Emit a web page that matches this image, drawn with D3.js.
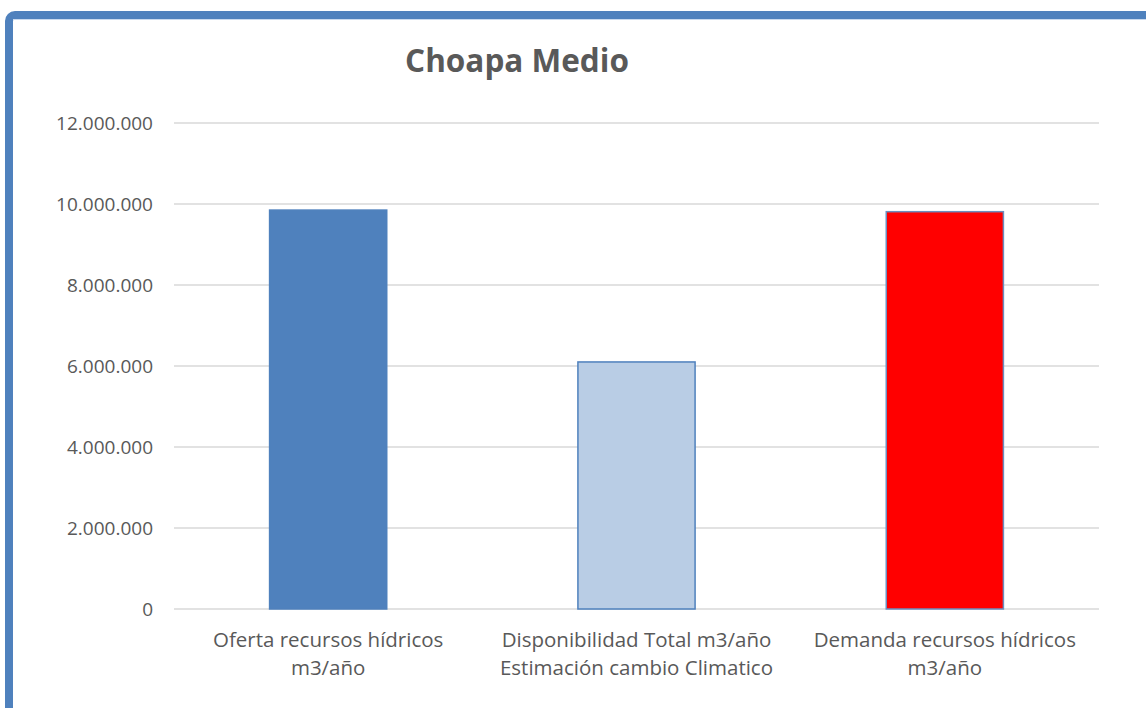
<!DOCTYPE html>
<html>
<head>
<meta charset="utf-8">
<script src="https://cdn.jsdelivr.net/npm/d3@7"></script>
<style>
  body { margin: 0; background: #fff; overflow: hidden; }
  text { font-family: "Open Sans", Lato, sans-serif; fill: #595959; }
</style>
</head>
<body>
<div id="chart"></div>
<script>
const categories = [
    ["Oferta recursos hídricos", "m3/año"],
    ["Disponibilidad Total m3/año", "Estimación cambio Climatico"],
    ["Demanda recursos hídricos", "m3/año"]
];
const values = [9850000, 6100000, 9810000];
const yTicks = [0, 2000000, 4000000, 6000000, 8000000, 10000000, 12000000];
const fills = ["#4F81BD", "#B9CDE5", "#FF0000"];
const strokes = ["#4F81BD", "#4F81BD", "#6C8EBF"];

const W = 1146, H = 708;
const margins = {top: 123, right: 47, bottom: 99, left: 174};
const width = W - margins.left - margins.right;
const height = H - margins.top - margins.bottom;

const svg = d3.select("#chart").append("svg").attr("width", W).attr("height", H);

// blue frame, only top and left edges are inside the picture
svg.append("rect")
    .attr("x", 9).attr("y", 15).attr("width", W + 40).attr("height", H + 40)
    .attr("rx", 6).attr("fill", "none")
    .attr("stroke", "#4F81BD").attr("stroke-width", 8);
svg.append("line").attr("x1", 13).attr("x2", W).attr("y1", 19.5).attr("y2", 19.5)
    .attr("stroke", "#C9D9EE").attr("stroke-width", 1);

svg.append("text")
    .attr("x", 517).attr("y", 72)
    .attr("text-anchor", "middle")
    .style("font-size", "31.5px").style("font-weight", "bold")
    .text("Choapa Medio");

const g = svg.append("g").attr("transform", `translate(${margins.left},${margins.top})`);

const x = d3.scaleBand().domain(d3.range(categories.length)).range([0, width])
    .paddingInner(0.62).paddingOuter(0.31);
const y = d3.scaleLinear().domain([0, 12000000]).range([height, 0]);

const fmt = v => d3.format(",")(v).replace(/,/g, ".");

// gridlines
g.selectAll(".grid").data(yTicks).enter().append("line")
    .attr("x1", 0).attr("x2", width)
    .attr("y1", d => y(d)).attr("y2", d => y(d))
    .attr("stroke", "#D9D9D9").attr("stroke-width", 1.5);

// y labels
g.selectAll(".ylab").data(yTicks).enter().append("text")
    .attr("x", -21).attr("y", d => y(d)).attr("dy", "0.35em")
    .attr("text-anchor", "end").style("font-size", "19px")
    .text(fmt);

// bars
g.selectAll(".bar").data(values).enter().append("rect")
    .attr("x", (d, i) => x(i)).attr("y", d => y(d))
    .attr("width", x.bandwidth()).attr("height", d => height - y(d))
    .attr("fill", (d, i) => fills[i])
    .attr("stroke", (d, i) => strokes[i]).attr("stroke-width", 1.5);

// category labels
categories.forEach((lines, i) => {
    const t = g.append("text").attr("text-anchor", "middle").style("font-size", "20.5px");
    lines.forEach((l, j) => {
        t.append("tspan").attr("x", x(i) + x.bandwidth() / 2)
            .attr("y", height + 38 + j * 28).text(l);
    });
});
</script>
</body>
</html>
